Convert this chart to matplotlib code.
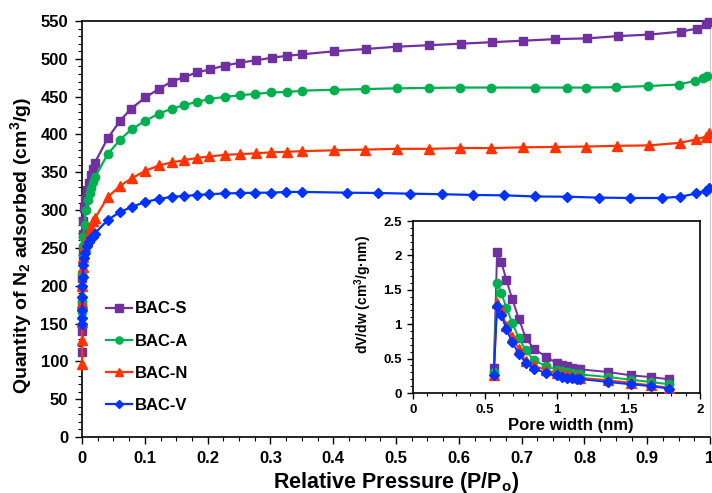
import matplotlib
matplotlib.use("Agg")
import matplotlib.pyplot as plt
from matplotlib.ticker import MultipleLocator

plt.rcParams['font.family'] = ['Liberation Sans', 'DejaVu Sans']
plt.rcParams['font.weight'] = 'bold'
plt.rcParams['mathtext.fontset'] = 'custom'
plt.rcParams['mathtext.rm'] = 'Liberation Sans:bold'
plt.rcParams['mathtext.it'] = 'Liberation Sans:bold'
plt.rcParams['mathtext.bf'] = 'Liberation Sans:bold'
plt.rcParams['mathtext.default'] = 'rm'

# ---------------- isotherm data ----------------
p_S = [0, 0.0002, 0.0004, 0.0006, 0.0008, 0.001, 0.0015, 0.003, 0.005, 0.008, 0.011, 0.014, 0.017, 0.020,
       0.041, 0.0605, 0.078, 0.101, 0.122, 0.143, 0.163, 0.183, 0.204, 0.227, 0.252, 0.277, 0.3025, 0.327,
       0.351, 0.402, 0.452, 0.501, 0.553, 0.603, 0.653, 0.703, 0.753, 0.804, 0.853, 0.903, 0.954, 0.979,
       0.994, 0.999]
q_S = [113, 140, 175, 210, 245, 268, 285, 303, 315, 326, 336, 346, 354, 362,
       395, 418, 434, 449, 460, 470, 476, 482, 486, 491, 495, 498, 501.5, 504,
       506, 510, 513, 516, 518, 520, 522, 524, 526, 527, 530, 532, 536, 540,
       546, 549]

p_A = [0, 0.0002, 0.0004, 0.0006, 0.0008, 0.001, 0.002, 0.004, 0.006, 0.009, 0.012, 0.015, 0.018, 0.021,
       0.041, 0.0605, 0.079, 0.101, 0.122, 0.143, 0.163, 0.183, 0.203, 0.227, 0.252, 0.276, 0.301, 0.326,
       0.351, 0.401, 0.451, 0.501, 0.553, 0.602, 0.652, 0.721, 0.772, 0.802, 0.851, 0.901, 0.951, 0.976,
       0.989, 0.995]
q_A = [165, 180, 197, 215, 238, 252, 265, 280, 300, 313, 322, 329, 337, 344,
       374, 393, 407, 418, 427.5, 434, 439, 443, 447, 449.5, 452, 453.5, 455.6, 456,
       458, 459, 460, 461, 461.5, 462, 462, 462, 462, 462, 462.5, 464, 466, 471,
       475, 477]

p_N = [0, 0.0001, 0.0002, 0.0003, 0.0005, 0.001, 0.002, 0.005, 0.008, 0.011, 0.015, 0.018, 0.021,
       0.041, 0.0605, 0.079, 0.101, 0.122, 0.143, 0.163, 0.183, 0.203, 0.227, 0.252, 0.277, 0.3015,
       0.326, 0.351, 0.401, 0.451, 0.501, 0.553, 0.602, 0.652, 0.703, 0.753, 0.803, 0.852, 0.903,
       0.953, 0.978, 0.993, 0.999]
q_N = [97, 128, 152, 177, 200, 225, 238, 252, 260, 269, 278, 285, 290,
       317, 332, 342, 352, 359, 363, 366, 369, 371, 373, 374, 375, 376.4,
       377, 378, 379, 380, 381, 381, 382, 382, 383, 383.5, 384, 385, 385.5,
       389, 393.5, 397, 402]

p_V = [0, 0.0001, 0.0002, 0.0004, 0.0006, 0.001, 0.002, 0.003, 0.005, 0.008, 0.011, 0.014, 0.017, 0.020,
       0.041, 0.0605, 0.079, 0.101, 0.122, 0.143, 0.163, 0.183, 0.203, 0.227, 0.252, 0.2755, 0.3015,
       0.3255, 0.351, 0.4225, 0.472, 0.522, 0.573, 0.622, 0.672, 0.722, 0.773, 0.823, 0.873, 0.923,
       0.953, 0.978, 0.993, 0.999]
q_V = [150, 157, 168, 185, 199, 212, 227, 236, 243, 252, 258, 262.6, 265, 269,
       287, 297.5, 304, 311, 314.5, 317.7, 318.6, 320, 321, 322, 322.5, 323, 323,
       324, 324, 323, 322.6, 321.7, 321, 320, 319.5, 318, 317.7, 316.5, 316, 316,
       317.7, 322, 325.6, 329]

# ---------------- pore size distribution ----------------
width = [0.563, 0.586, 0.616, 0.651, 0.691, 0.737, 0.786, 0.842, 0.930, 1.0, 1.035, 1.07,
         1.105, 1.14, 1.163, 1.36, 1.516, 1.656, 1.786]
dv_S = [0.368, 2.05, 1.90, 1.64, 1.37, 1.08, 0.80, 0.644, 0.523, 0.436, 0.40, 0.387,
        0.368, 0.354, 0.344, 0.305, 0.257, 0.232, 0.199]
dv_A = [0.305, 1.60, 1.45, 1.24, 1.02, 0.80, 0.62, 0.475, 0.39, 0.34, 0.32, 0.305,
        0.29, 0.276, 0.27, 0.232, 0.194, 0.16, 0.126]
dv_N = [0.257, 1.31, 1.20, 0.97, 0.82, 0.64, 0.465, 0.40, 0.33, 0.29, 0.27, 0.257,
        0.247, 0.232, 0.223, 0.184, 0.15, 0.111, 0.077]
dv_V = [0.257, 1.26, 1.13, 0.925, 0.74, 0.57, 0.436, 0.354, 0.29, 0.257, 0.232, 0.223,
        0.213, 0.203, 0.203, 0.16, 0.126, 0.10, 0.063]

labels = ['BAC-S', 'BAC-A', 'BAC-N', 'BAC-V']
colors = ['#7030A0', '#00B050', '#FF3300', '#0033FF']
markers = ['s', 'o', '^', 'D']
msizes = [6, 6, 6.5, 5]

fig = plt.figure(figsize=(7.12, 4.93), dpi=100)
ax = fig.add_axes([82/712, 1-437/493, (710-82)/712, (437-21)/493])

iso = [(p_S, q_S), (p_A, q_A), (p_N, q_N), (p_V, q_V)]
for (p, q), lab, c, m, ms in zip(iso, labels, colors, markers, msizes):
    ax.plot(p, q, color=c, marker=m, markersize=ms, lw=1.6, label=lab, clip_on=False, zorder=3)

ax.set_xlim(0, 1)
ax.set_ylim(0, 550)
ax.xaxis.set_minor_locator(MultipleLocator(0.025))
ax.yaxis.set_major_locator(MultipleLocator(50))
ax.yaxis.set_minor_locator(MultipleLocator(10))
ax.set_xticks([i/10 for i in range(11)])
ax.set_xticklabels(['0', '0.1', '0.2', '0.3', '0.4', '0.5', '0.6', '0.7', '0.8', '0.9', '1'])
ax.tick_params(which='major', direction='out', length=5, width=1, labelsize=12, pad=5)
ax.tick_params(which='minor', direction='out', length=3, width=0.8)
for lbl in ax.get_xticklabels() + ax.get_yticklabels():
    lbl.set_fontweight('bold')
for s in ['left', 'bottom', 'top']:
    ax.spines[s].set_linewidth(1.2)
ax.spines['right'].set_color('#c8c8c8')
ax.set_xlabel('Relative Pressure (P/P$_o$)', fontsize=15.5, fontweight='bold', labelpad=3)
ax.set_ylabel('Quantity of N$_2$ adsorbed (cm$^3$/g)', fontsize=14, fontweight='bold')
ax.yaxis.set_label_coords(-0.076, 0.4615)

leg = ax.legend(loc='upper left', bbox_to_anchor=(0.039, 0.326), frameon=False,
                fontsize=12, handlelength=1.55, handletextpad=0.15, labelspacing=1.03,
                borderpad=0, borderaxespad=0, markerscale=0.85)
for t in leg.get_texts():
    t.set_fontweight('bold')

# ---------------- inset ----------------
ins = fig.add_axes([413/712, 1-393/493, (700-413)/712, (393-221)/493])
psd = [dv_S, dv_A, dv_N, dv_V]
for v, c, m, ms in zip(psd, colors, markers, msizes):
    ins.plot(width, v, color=c, marker=m, markersize=ms, lw=1.4, zorder=3)
ins.set_xlim(0, 2)
ins.set_ylim(0, 2.5)
ins.xaxis.set_minor_locator(MultipleLocator(0.1))
ins.yaxis.set_minor_locator(MultipleLocator(0.1))
ins.set_xticks([0, 0.5, 1, 1.5, 2])
ins.set_xticklabels(['0', '0.5', '1', '1.5', '2'])
ins.set_yticks([0, 0.5, 1, 1.5, 2, 2.5])
ins.set_yticklabels(['0', '0.5', '1', '1.5', '2', '2.5'])
ins.tick_params(which='major', direction='out', length=4, width=1, labelsize=9.5, pad=4)
ins.tick_params(which='minor', direction='out', length=2.5, width=0.8)
for lbl in ins.get_xticklabels() + ins.get_yticklabels():
    lbl.set_fontweight('bold')
for s in ins.spines.values():
    s.set_linewidth(1.2)
ins.set_xlabel('Pore width (nm)', fontsize=12, fontweight='bold')
ins.xaxis.set_label_coords(0.55, -0.145)
ins.set_ylabel('dV/dw (cm$^3$/g·nm)', fontsize=10, fontweight='bold')
ins.yaxis.set_label_coords(-0.135, 0.57)

fig.savefig('out.png', dpi=100)
